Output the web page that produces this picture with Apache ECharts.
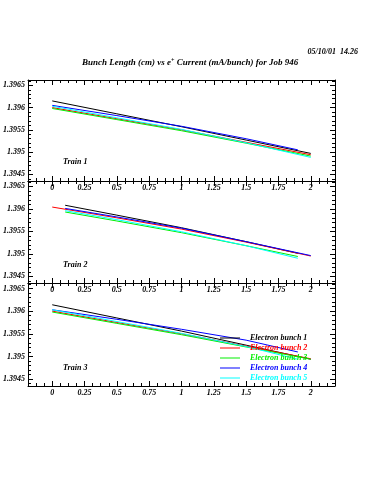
<!DOCTYPE html>
<html><head><meta charset="utf-8">
<script src="https://cdn.jsdelivr.net/npm/echarts@6/dist/echarts.min.js"></script>
<style>html,body{margin:0;padding:0;background:#fff}#c{width:375px;height:500px}</style>
</head><body><div id="c"></div>
<script>
const bunchNames = ['Electron bunch 1','Electron bunch 2','Electron bunch 3','Electron bunch 4','Electron bunch 5'];
const bunchColors = ['#000000','#ff0000','#00ee00','#0000ff','#00ffff'];
const trainNames = ['Train 1','Train 2','Train 3'];
const xTickLabels = [0,0.25,0.5,0.75,1,1.25,1.5,1.75,2];
const yTickLabels = [1.3945,1.395,1.3955,1.396,1.3965];

// Train 1
const t1b1X = [0,0.5,1,1.5,2];   const t1b1Y = [1.39615,1.39586,1.39557,1.39527,1.39497];
const t1b2X = [0,0.5,1,1.5,2];   const t1b2Y = [1.39600,1.39575,1.39550,1.39522,1.39494];
const t1b3X = [0,0.5,1,1.5,2];   const t1b3Y = [1.39598,1.39573,1.39548,1.39520,1.39491];
const t1b4X = [0,0.5,1,1.5,1.9]; const t1b4Y = [1.39605,1.39582,1.39558,1.39530,1.39505];
const t1b5X = [0,0.5,1,1.5,2];   const t1b5Y = [1.39603,1.39577,1.39551,1.39521,1.39488];
// Train 2
const t2b1X = [0.1,0.5,1,1.5,1.9]; const t2b1Y = [1.39608,1.39586,1.39558,1.39527,1.39501];
const t2b2X = [0,0.5,1,1.5,2];     const t2b2Y = [1.39604,1.39580,1.39555,1.39526,1.39495];
const t2b3X = [0.1,0.5,1,1.5,1.9]; const t2b3Y = [1.39593,1.39573,1.39547,1.39518,1.39494];
const t2b4X = [0.1,0.5,1,1.5,2];   const t2b4Y = [1.39601,1.39582,1.39557,1.39527,1.39496];
const t2b5X = [0.1,0.5,1,1.5,1.9]; const t2b5Y = [1.39596,1.39576,1.39549,1.39518,1.39490];
// Train 3
const t3b1X = [0,0.5,1,1.5,2];   const t3b1Y = [1.39614,1.39585,1.39556,1.39525,1.39494];
const t3b2X = [0,0.5,1,1.5,2];   const t3b2Y = [1.39600,1.39575,1.39550,1.39523,1.39495];
const t3b3X = [0,0.5,1,1.5,2];   const t3b3Y = [1.39598,1.39573,1.39548,1.39521,1.39494];
const t3b4X = [0,0.5,1,1.5,1.9]; const t3b4Y = [1.39603,1.39582,1.39560,1.39536,1.39510];
const t3b5X = [0,0.5,1,1.5,1.9]; const t3b5Y = [1.39603,1.39577,1.39551,1.39522,1.39494];

const trains = [
  [[t1b1X,t1b1Y],[t1b2X,t1b2Y],[t1b3X,t1b3Y],[t1b4X,t1b4Y],[t1b5X,t1b5Y]],
  [[t2b1X,t2b1Y],[t2b2X,t2b2Y],[t2b3X,t2b3Y],[t2b4X,t2b4Y],[t2b5X,t2b5Y]],
  [[t3b1X,t3b1Y],[t3b2X,t3b2Y],[t3b3X,t3b3Y],[t3b4X,t3b4Y],[t3b5X,t3b5Y]]
];

const X_MIN = -0.1875, X_MAX = 2.1875;
const Y_MIN = 1.39435, Y_MAX = 1.39662;
const xMinor = []; for (let i = -3; i <= 35; i++) xMinor.push(i * 0.0625);
const yMinor = []; for (let i = 13944; i <= 13966; i++) yMinor.push(i / 10000);

const font = { fontFamily: 'Liberation Serif', fontStyle: 'italic', fontWeight: 'bold', fontSize: 8, color: '#000' };
const grids = [
  { left: 28, top: 80, width: 307, height: 101 },
  { left: 28, top: 181, width: 307, height: 102 },
  { left: 28, top: 283, width: 307, height: 103 }
];

const lineOn = { show: true, onZero: false, lineStyle: { color: '#000', width: 1 } };
const lineOff = { show: false, onZero: false };
const xAxis = [], yAxis = [];
grids.forEach((g, gi) => {
  const base = { type: 'value', gridIndex: gi, min: X_MIN, max: X_MAX, splitLine: { show: false } };
  xAxis.push(Object.assign({}, base, { position: 'bottom', axisLine: lineOn,
    axisTick: { show: true, inside: true, length: 5, customValues: xTickLabels, lineStyle: { color: '#000' } },
    axisLabel: Object.assign({ show: true, margin: 3, customValues: xTickLabels, formatter: v => String(v) }, font) }));
  xAxis.push(Object.assign({}, base, { position: 'bottom', axisLine: lineOff,
    axisTick: { show: true, inside: true, length: 3, customValues: xMinor, lineStyle: { color: '#000' } },
    axisLabel: { show: false } }));
  xAxis.push(Object.assign({}, base, { position: 'top', axisLine: lineOn,
    axisTick: { show: true, inside: true, length: 5, customValues: xTickLabels, lineStyle: { color: '#000' } },
    axisLabel: { show: false } }));
  xAxis.push(Object.assign({}, base, { position: 'top', axisLine: lineOff,
    axisTick: { show: true, inside: true, length: 3, customValues: xMinor, lineStyle: { color: '#000' } },
    axisLabel: { show: false } }));

  const ybase = { type: 'value', gridIndex: gi, min: Y_MIN, max: Y_MAX, splitLine: { show: false } };
  yAxis.push(Object.assign({}, ybase, { position: 'left', axisLine: lineOn,
    axisTick: { show: true, inside: true, length: 5, customValues: yTickLabels, lineStyle: { color: '#000' } },
    axisLabel: Object.assign({ show: true, margin: 3, customValues: yTickLabels, formatter: v => String(+(+v).toFixed(4)) }, font) }));
  yAxis.push(Object.assign({}, ybase, { position: 'left', axisLine: lineOff,
    axisTick: { show: true, inside: true, length: 3, customValues: yMinor, lineStyle: { color: '#000' } },
    axisLabel: { show: false } }));
  yAxis.push(Object.assign({}, ybase, { position: 'right', axisLine: lineOn,
    axisTick: { show: true, inside: true, length: 5, customValues: yTickLabels, lineStyle: { color: '#000' } },
    axisLabel: { show: false } }));
  yAxis.push(Object.assign({}, ybase, { position: 'right', axisLine: lineOff,
    axisTick: { show: true, inside: true, length: 3, customValues: yMinor, lineStyle: { color: '#000' } },
    axisLabel: { show: false } }));
});

const series = [];
trains.forEach((tr, gi) => {
  tr.forEach((s, bi) => {
    series.push({
      name: bunchNames[bi], type: 'line', xAxisIndex: gi * 4, yAxisIndex: gi * 4,
      symbol: 'none', silent: true, animation: false,
      lineStyle: { color: bunchColors[bi], width: 1 }, itemStyle: { color: bunchColors[bi] },
      data: s[0].map((x, k) => [x, s[1][k]])
    });
  });
});

const titles = [
  { text: 'Bunch Length (cm) vs e{sup|+} Current (mA/bunch) for Job 946', left: 77, top: 52,
    textStyle: Object.assign({}, font, { fontSize: 9,
      rich: { sup: Object.assign({}, font, { fontSize: 6, verticalAlign: 'top', padding: [0, 0, 6, 0] }) } }) },
  { text: '05/10/01  14.26', right: 12, top: 43, textStyle: Object.assign({}, font) }
];
const trainTops = [153, 256, 359];
trainNames.forEach((t, i) => titles.push({ text: t, left: 58, top: trainTops[i], textStyle: Object.assign({}, font) }));

const chart = echarts.init(document.getElementById('c'), null, { renderer: 'canvas' });
chart.setOption({
  animation: false,
  backgroundColor: '#fff',
  title: titles,
  grid: grids,
  xAxis, yAxis, series,
  legend: {
    orient: 'vertical', left: 220, top: 333, padding: 0, itemWidth: 20, itemHeight: 1, itemGap: 0,
    icon: 'rect',
    textStyle: Object.assign({}, font, { lineHeight: 10, padding: [0, 0, 0, 5] }),
    data: bunchNames.map((n, i) => ({ name: n, icon: 'rect', itemStyle: { color: bunchColors[i] }, textStyle: { color: bunchColors[i] } }))
  }
});
</script></body></html>
